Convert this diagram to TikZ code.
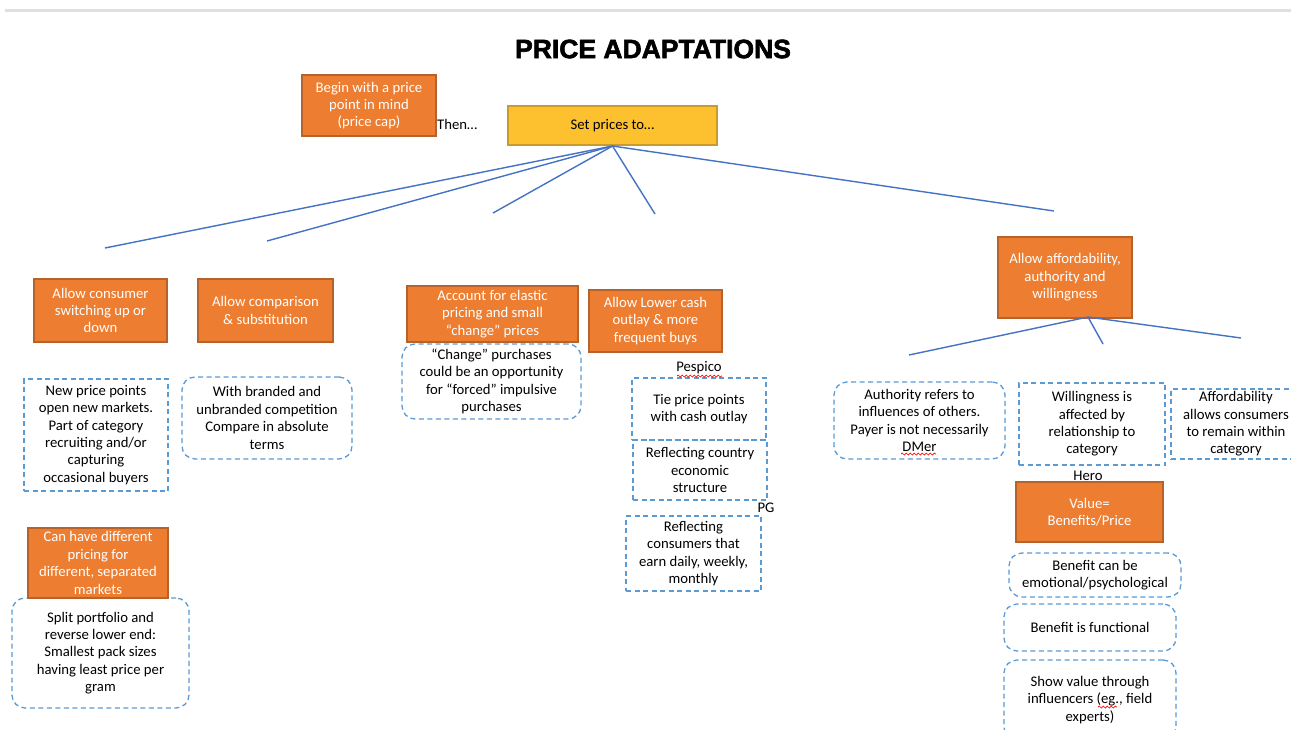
\documentclass[tikz,border=0pt]{standalone}
\usepackage{fontspec}
\setmainfont{Carlito}
\newfontfamily\titlefont[BoldFeatures={FakeBold=2.2}]{Liberation Sans}
\usetikzlibrary{decorations.pathmorphing}
\definecolor{orf}{HTML}{ED7D31}
\definecolor{ord}{HTML}{B5622B}
\definecolor{yef}{HTML}{FDC02E}
\definecolor{yed}{HTML}{C99A2C}
\definecolor{lnb}{HTML}{4472C4}
\definecolor{dsb}{HTML}{5B9BD5}
\tikzset{
  body/.style={font=\fontsize{14.7}{17.4}\selectfont, align=center, inner sep=0pt},
  obox/.style={body, draw=ord, fill=orf, text=white, line width=1.2pt},
  ybox/.style={body, draw=yed, fill=yef, line width=1.2pt},
  dbox/.style={body, draw=dsb, line width=1.3pt, dash pattern=on 5pt off 3.5pt},
  rbox/.style={dbox, rounded corners=13pt},
  conn/.style={draw=lnb, line width=1.4pt},
  squig/.style={draw=red, line width=0.7pt, decorate, decoration={snake, segment length=4pt, amplitude=1pt}}
}
\begin{document}
\begin{tikzpicture}[x=1pt,y=-1pt]
\useasboundingbox (0,0) rectangle (1291,729);
\fill[white] (0,0) rectangle (1291,729);
\draw[line width=3pt, draw=black!12] (5,10) -- (1291,10);

\node[font=\titlefont\bfseries\fontsize{26.5}{30}\selectfont] (title) at (653,49) {PRICE ADAPTATIONS};

\node[obox, minimum width=134pt, minimum height=61pt] (begin) at (369,105.5) {Begin with a price\\point in mind\\(price cap)};
\node[body, anchor=west] (then) at (437,124) {Then…};
\node[ybox, minimum width=209pt, minimum height=39pt] (setp) at (612.5,125.5) {Set prices to…};

\node[obox, minimum width=133pt, minimum height=63pt] (a1) at (100.5,310.5) {Allow consumer\\switching up or\\down};
\node[obox, minimum width=135pt, minimum height=63pt] (a2) at (265.5,310.5) {Allow comparison\\\& substitution};
\node[obox, minimum width=171pt, minimum height=56pt] (a3) at (492.5,314) {Account for elastic\\pricing and small\\“change” prices};
\node[obox, minimum width=133pt, minimum height=62pt] (a4) at (655.5,321) {Allow Lower cash\\outlay \& more\\frequent buys};
\node[obox, minimum width=134pt, minimum height=81pt] (a5) at (1065,277.5) {Allow affordability,\\authority and\\willingness};

\coordinate (e1) at (105,248);
\coordinate (e2) at (267,241);
\coordinate (e3) at (493,213);
\coordinate (e4) at (655,214);
\coordinate (e5) at (1054,211);
\coordinate (top) at (612.5,146);
\foreach \e in {e1,e2,e3,e4,e5} \draw[conn] (top) -- (\e);

\coordinate (f0) at (1088,317);
\coordinate (f1) at (909,355);
\coordinate (f2) at (1103,344);
\coordinate (f3) at (1241,338);
\foreach \f in {f1,f2,f3} \draw[conn] (f0) -- (\f);

\node[dbox, minimum width=144pt, minimum height=112pt] (d1) at (96,435) {New price points\\open new markets.\\Part of category\\recruiting and/or\\capturing\\occasional buyers};
\node[rbox, minimum width=170pt, minimum height=82pt] (d2) at (267,418) {With branded and\\unbranded competition\\Compare in absolute\\terms};
\node[rbox, minimum width=177pt, minimum height=110pt] (d3) at (100.5,653) {Split portfolio and\\reverse lower end:\\Smallest pack sizes\\having least price per\\gram};
\node[obox, minimum width=140pt, minimum height=70pt] (a6) at (98,563) {Can have different\\pricing for\\different, separated\\markets};

\node[rbox, minimum width=179pt, minimum height=75pt] (d4) at (491.5,381.5) {“Change” purchases\\could be an opportunity\\for “forced” impulsive\\purchases};

\node[body] (pespico) at (699,368) {Pespico};
\node[dbox, minimum width=134pt, minimum height=62pt] (d5) at (699,409) {Tie price points\\with cash outlay};
\node[dbox, minimum width=134pt, minimum height=60pt] (d6) at (700,470) {Reflecting country\\economic\\structure};
\node[body] (pg) at (766,508) {PG};
\node[dbox, minimum width=135pt, minimum height=75pt] (d7) at (693.5,553.5) {Reflecting\\consumers that\\earn daily, weekly,\\monthly};

\node[rbox, minimum width=171pt, minimum height=77pt] (d8) at (919.5,420.5) {Authority refers to\\influences of others.\\Payer is not necessarily\\DMer};
\node[dbox, minimum width=146pt, minimum height=82pt] (d9) at (1092,424) {Willingness is\\affected by\\relationship to\\category};
\node[dbox, minimum width=130pt, minimum height=70pt] (d10) at (1236,424) {Affordability\\allows consumers\\to remain within\\category};

\node[body] (hero) at (1088,476) {Hero};
\node[obox, minimum width=147pt, minimum height=60pt] (a7) at (1089.5,512) {Value=\\Benefits/Price};
\node[rbox, minimum width=172pt, minimum height=44pt] (d11) at (1095,575) {Benefit can be\\emotional/psychological};
\node[rbox, minimum width=172pt, minimum height=47pt] (d12) at (1090,627.5) {Benefit is functional};
\node[rbox, minimum width=172pt, minimum height=80pt] (d13) at (1090,700) {Show value through\\influencers (eg., field\\experts)};

\draw[squig] (677,376) -- (722,376);
\draw[squig] (901,454) -- (936,454);
\draw[squig] (1098,707) -- (1117,707);
\end{tikzpicture}
\end{document}
